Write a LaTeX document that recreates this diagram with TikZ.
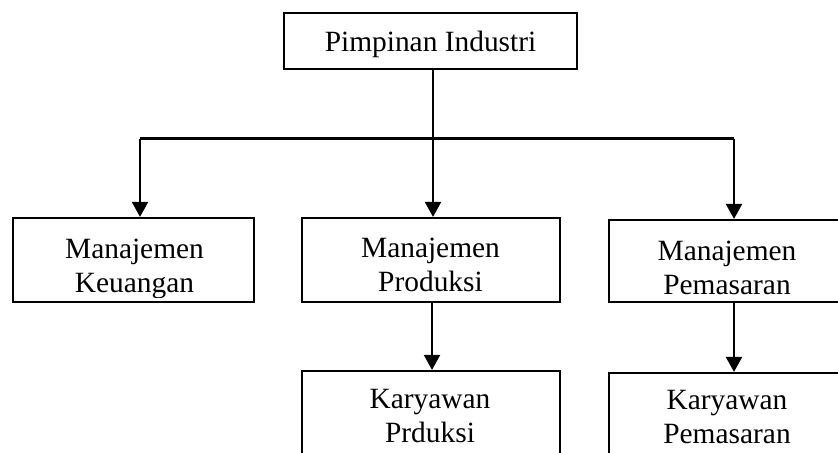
\documentclass[tikz,border=0pt]{standalone}
\usepackage{fontspec}
\setmainfont{Liberation Serif}
\usetikzlibrary{positioning,arrows.meta}

\begin{document}
\begin{tikzpicture}[x=0.5pt,y=-0.5pt,
    box/.style={draw,line width=1.1pt,inner sep=0pt,minimum height=42pt},
    label/.style={align=center,anchor=base,inner sep=0pt,
      font=\fontsize{14.7}{16.7}\selectfont},
    link/.style={line width=1.1pt},
    arr/.style={line width=1.1pt,-{Triangle[width=8pt,length=7.5pt]}}]

  \clip (0,0) rectangle (838,452);

  % boxes
  \node [box,minimum width=146.5pt,minimum height=28pt] (pimpinan) at (430.5,41) {};
  \node [box,minimum width=120.5pt] (keuangan) at (133.5,260) {};
  \node [box,minimum width=129pt] (produksi) at (431,260) {};
  \node [box,minimum width=118pt,minimum height=41pt] (pemasaran) at (727,261) {};
  \node [box,minimum width=129pt] (kprod) at (431,413) {};
  \node [box,minimum width=118pt] (kpem) at (727,415) {};

  % texts (base = last line)
  \node [label] (tpimpinan) at (430.5,51) {Pimpinan Industri};
  \begin{scope}
    \clip (13,218) rectangle (254,297);
    \node [label] (tkeuangan) at (134.5,292) {Manajemen \\ Keuangan};
  \end{scope}
  \node [label] (tproduksi) at (430.5,291) {Manajemen \\ Produksi};
  \node [label] (tpemasaran) at (727,294) {Manajemen \\ Pemasaran};
  \node [label] (tkprod) at (430,442) {Karyawan \\ Prduksi};
  \node [label] (tkpem) at (727,443) {Karyawan \\ Pemasaran};

  % connectors
  \coordinate (bus) at (433,138.5);
  \coordinate (busL) at (140,138.5);
  \coordinate (busR) at (734,138.5);

  \draw [link] (pimpinan.south -| bus) -- (bus);
  \draw [link] (busL) -- (busR);
  \draw [arr] (busL) -- (busL |- keuangan.north);
  \draw [arr] (bus) -- (bus |- produksi.north);
  \draw [arr] (busR) -- (busR |- pemasaran.north);

  \draw [arr] ([xshift=0.5]produksi.south) -- ([xshift=0.5]kprod.north);
  \draw [arr] (pemasaran.south -| busR) -- (kpem.north -| busR);

\end{tikzpicture}
\end{document}
